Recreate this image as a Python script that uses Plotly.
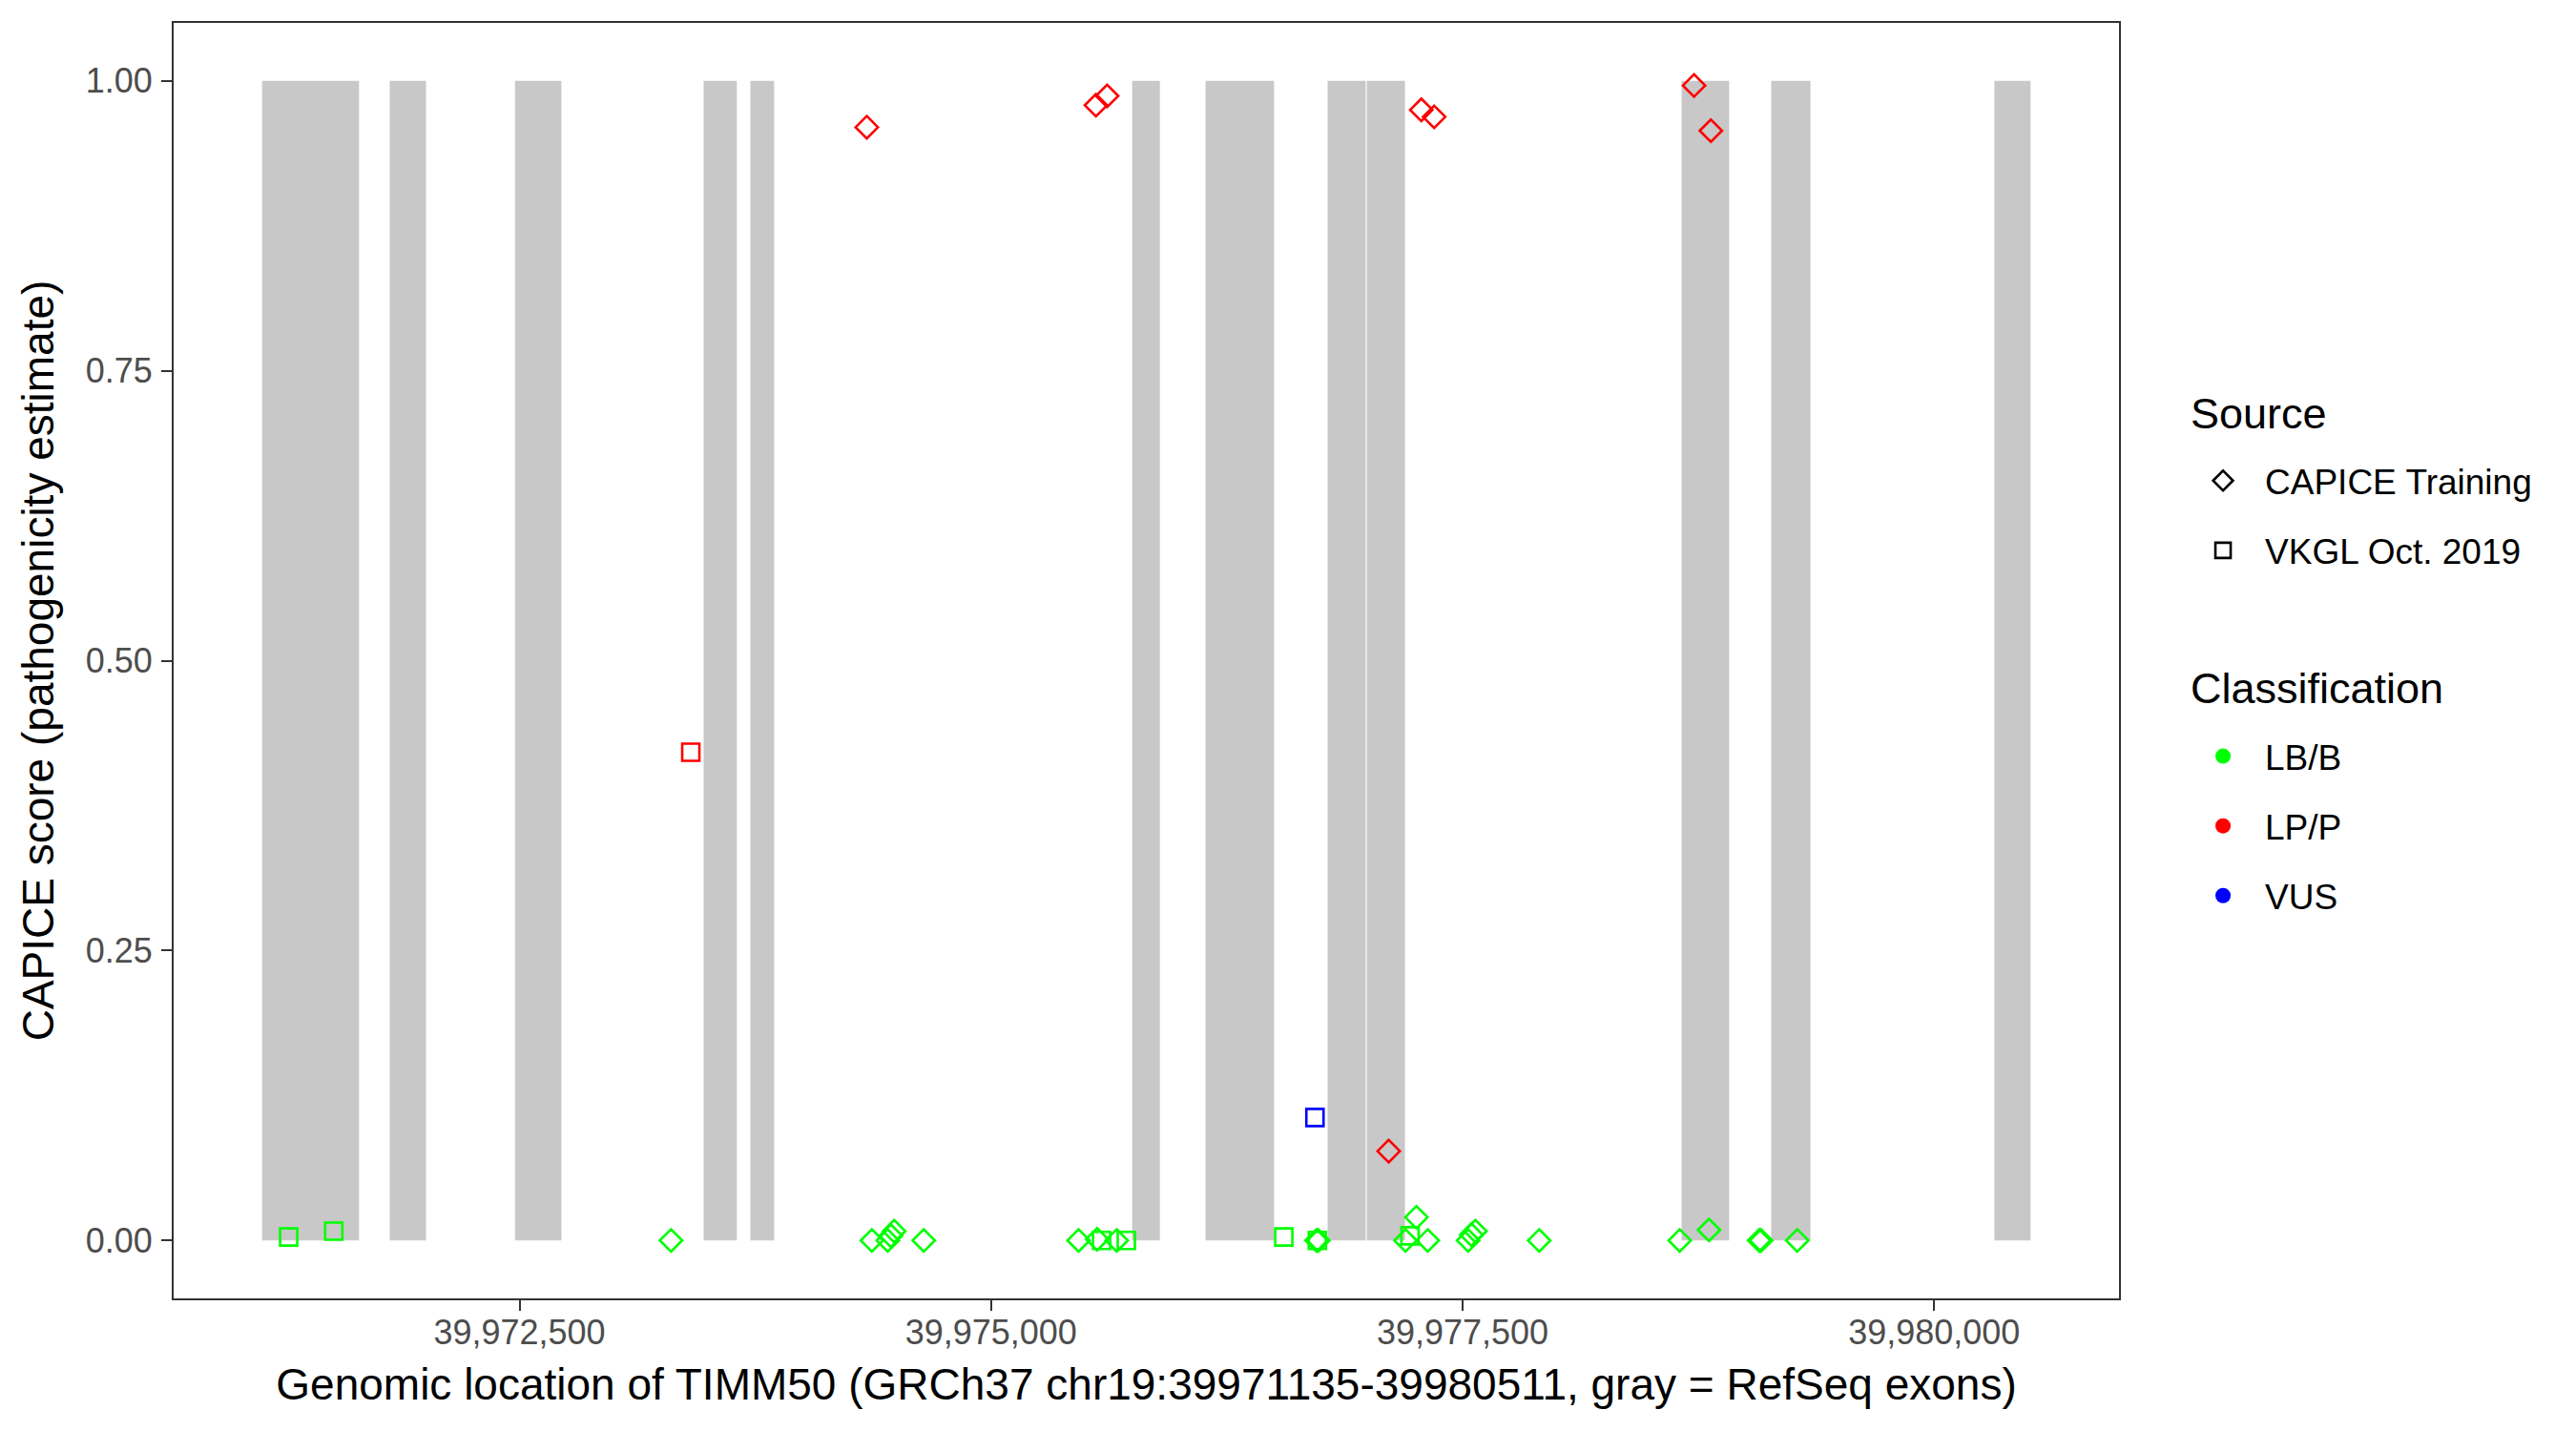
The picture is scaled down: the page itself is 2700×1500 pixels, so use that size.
import plotly.graph_objects as go

# ---------------- data ----------------
exon_starts = [39971135, 39971812, 39972476, 39973476, 39973724, 39975748,
               39976137, 39976784, 39976992, 39978661, 39979136, 39980319]
exon_ends = [39971649, 39972004, 39972722, 39973652, 39973850, 39975895,
             39976500, 39976986, 39977194, 39978913, 39979344, 39980511]

# CAPICE training variants
capice_lb_x = [39973303, 39974368, 39974452, 39974469, 39974486, 39974643,
               39975464, 39975562, 39975666, 39976725, 39976735, 39977197,
               39977255, 39977315, 39977529, 39977546, 39977568, 39977906,
               39978651, 39978806, 39979072, 39979077, 39979082, 39979274]
capice_lb_y = [0.0, 0.0, 0.0, 0.004, 0.008, 0.0,
               0.0, 0.001, 0.0, 0.0, 0.0, 0.0,
               0.020, 0.0, 0.0, 0.005, 0.008, 0.0,
               0.0, 0.009, 0.0, 0.0, 0.0, 0.0]
capice_lp_x = [39974341, 39975556, 39975615, 39977108, 39977281, 39977349,
               39978727, 39978816]
capice_lp_y = [0.960, 0.979, 0.987, 0.077, 0.975, 0.969, 0.996, 0.957]

# VKGL Oct. 2019 variants
vkgl_lb_x = [39971276, 39971515, 39975586, 39975717, 39976552, 39976730, 39977221]
vkgl_lb_y = [0.003, 0.008, 0.0, 0.0, 0.003, 0.0, 0.004]
vkgl_lp_x = [39973408]
vkgl_lp_y = [0.421]
vkgl_vus_x = [39976717]
vkgl_vus_y = [0.106]

source_labels = ["CAPICE Training", "VKGL Oct. 2019"]
class_labels = ["LB/B", "LP/P", "VUS"]

x_ticks = [39972500, 39975000, 39977500, 39980000]
y_ticks = [0.0, 0.25, 0.50, 0.75, 1.00]

gene_start, gene_end = 39971135, 39980511

# ---------------- styles ----------------
FONT = "Liberation Sans, Arial, Helvetica, sans-serif"
class_colors = {"LB/B": "#00FF00", "LP/P": "#FF0000", "VUS": "#0000FF"}
source_symbols = {"CAPICE Training": "diamond-open", "VKGL Oct. 2019": "square-open"}
MSIZE = 18
MLINE = 2.6

fig = go.Figure()

# exons
for s, e in zip(exon_starts, exon_ends):
    fig.add_shape(type="rect", xref="x", yref="y", x0=s, x1=e, y0=0, y1=1,
                  fillcolor="#C8C8C8", line=dict(width=0), layer="below")

series = [
    ("CAPICE Training", "LB/B", capice_lb_x, capice_lb_y),
    ("CAPICE Training", "LP/P", capice_lp_x, capice_lp_y),
    ("VKGL Oct. 2019", "LB/B", vkgl_lb_x, vkgl_lb_y),
    ("VKGL Oct. 2019", "LP/P", vkgl_lp_x, vkgl_lp_y),
    ("VKGL Oct. 2019", "VUS", vkgl_vus_x, vkgl_vus_y),
]
for src, cls, xs, ys in series:
    col = class_colors[cls]
    fig.add_trace(go.Scatter(
        x=xs, y=ys, mode="markers", showlegend=False,
        marker=dict(symbol=source_symbols[src], size=MSIZE, color=col,
                    line=dict(color=col, width=MLINE)),
    ))

# legend entries: Source
for i, src in enumerate(source_labels):
    fig.add_trace(go.Scatter(
        x=[None], y=[None], mode="markers", name=src, legend="legend",
        legendgroup="src%d" % i,
        marker=dict(symbol=source_symbols[src], size=16, color="black",
                    line=dict(color="black", width=2.6)),
    ))
# legend entries: Classification
for i, cls in enumerate(class_labels):
    fig.add_trace(go.Scatter(
        x=[None], y=[None], mode="markers", name=cls, legend="legend2",
        legendgroup="cls%d" % i,
        marker=dict(symbol="circle", size=16, color=class_colors[cls],
                    line=dict(width=0)),
    ))

pad = 0.05 * (gene_end - gene_start)

axis_common = dict(
    showgrid=False, zeroline=False, showline=True, mirror=True,
    linecolor="#333333", linewidth=2,
    ticks="outside", ticklen=11, tickwidth=2, tickcolor="#333333",
    tickfont=dict(family=FONT, size=36, color="#4D4D4D"),
)

LEG_X = 1.0319
legend_common = dict(
    font=dict(family=FONT, size=37, color="black"),
    xanchor="left", yanchor="top",
    tracegroupgap=22, itemsizing="trace", itemwidth=78,
    bgcolor="rgba(0,0,0,0)",
)

fig.update_layout(
    width=2700, height=1500,
    paper_bgcolor="white", plot_bgcolor="white",
    margin=dict(l=174, r=487, t=16, b=147, autoexpand=False),
    font=dict(family=FONT, color="black"),
    xaxis=dict(
        range=[gene_start - pad, gene_end + pad],
        tickvals=x_ticks, tickformat=",d", ticklabelstandoff=-8,
        title=dict(text="Genomic location of TIMM50 (GRCh37 chr19:39971135-39980511, gray = RefSeq exons)",
                   font=dict(family=FONT, size=46, color="black"), standoff=19),
        **axis_common,
    ),
    yaxis=dict(
        range=[-0.05, 1.05],
        tickvals=y_ticks, tickformat=".2f", ticklabelstandoff=2,
        title=dict(text="CAPICE score (pathogenicity estimate)",
                   font=dict(family=FONT, size=46, color="black"), standoff=19),
        **axis_common,
    ),
    legend=dict(x=LEG_X, y=0.664, **legend_common),
    legend2=dict(x=LEG_X, y=0.448, **legend_common),
    annotations=[
        dict(text="Source", xref="paper", yref="paper", x=1.0358, y=0.6936,
             xanchor="left", yanchor="middle", showarrow=False,
             font=dict(family=FONT, size=45, color="black")),
        dict(text="Classification", xref="paper", yref="paper", x=1.0358, y=0.4781,
             xanchor="left", yanchor="middle", showarrow=False,
             font=dict(family=FONT, size=45, color="black")),
    ],
)

fig.write_html("out.html")
